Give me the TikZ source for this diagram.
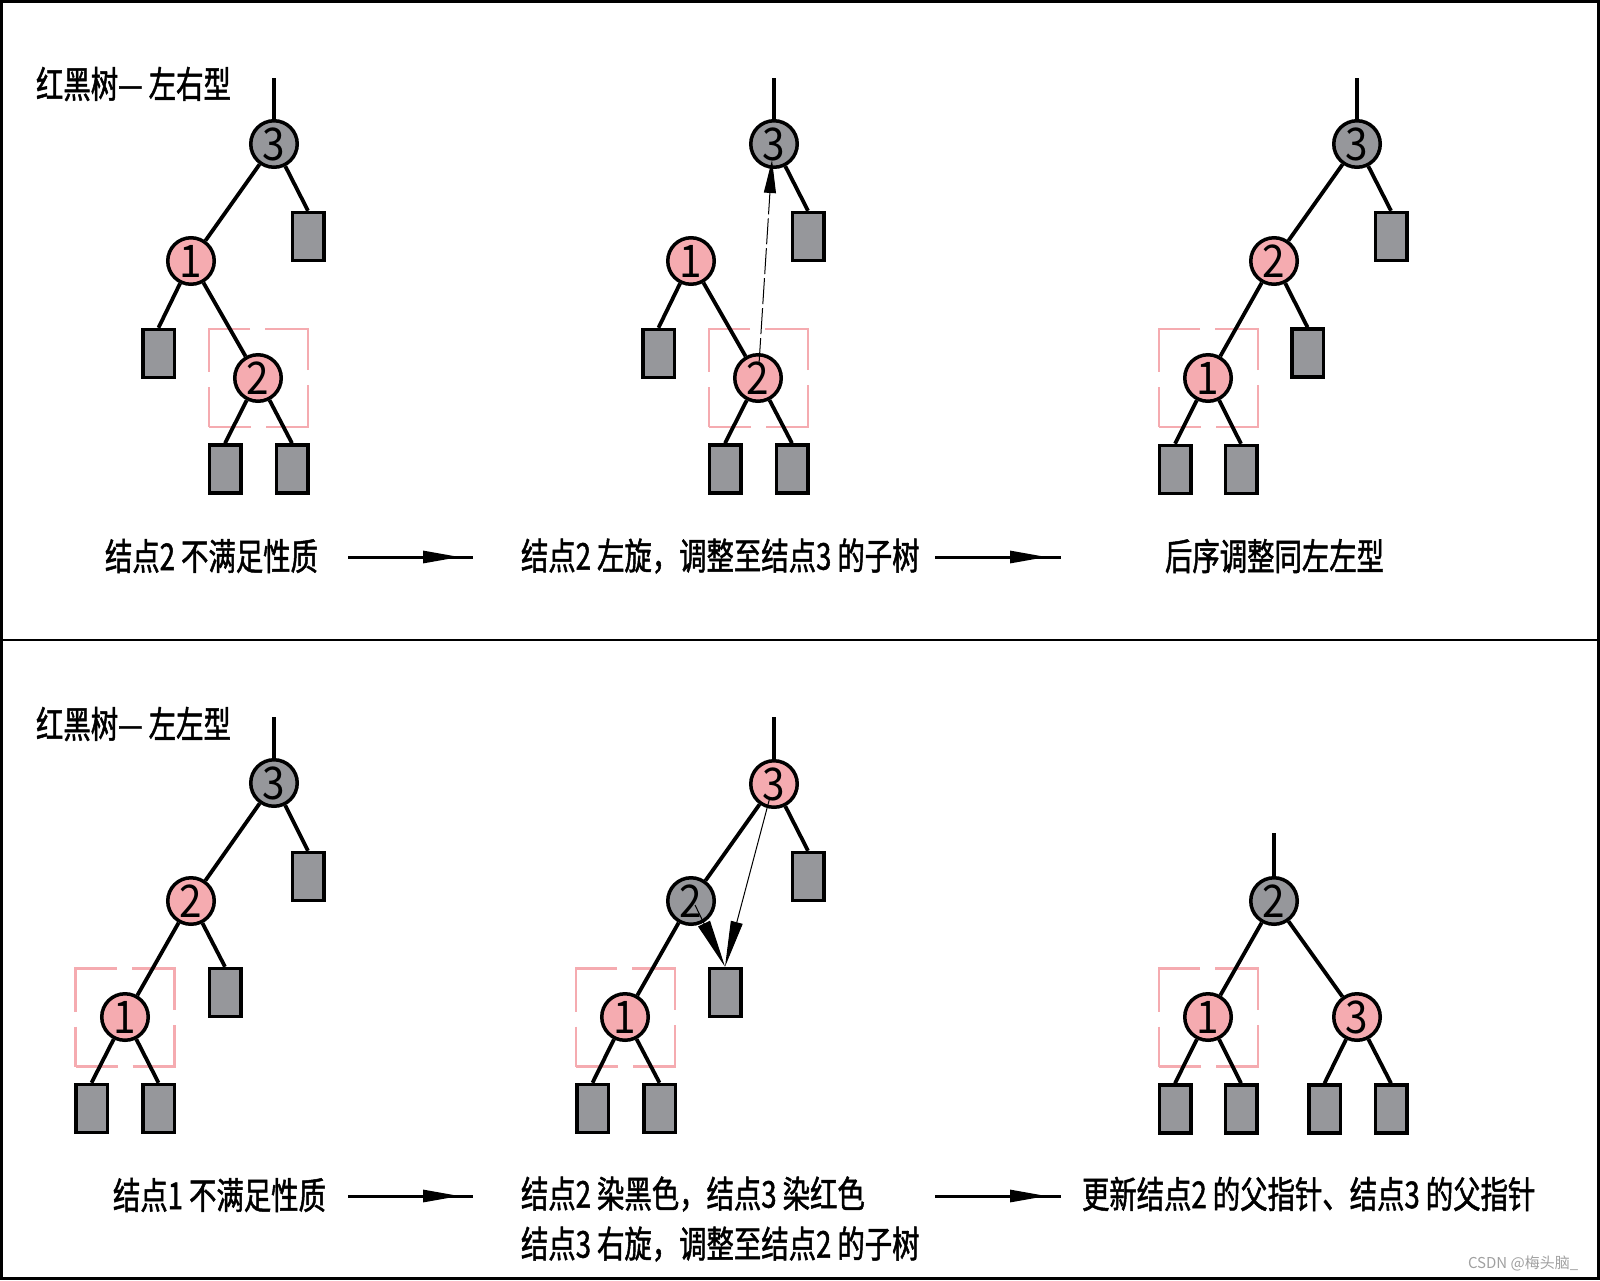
\documentclass[tikz,border=0pt]{standalone}
\usepackage{fontspec}
\usetikzlibrary{arrows.meta}
\newfontfamily\cjk[FakeStretch=0.74,FakeBold=1.3]{Noto Sans CJK SC}
\newfontfamily\numf[FakeStretch=0.9]{Noto Sans CJK SC}
\newfontfamily\wmf{Noto Sans CJK SC}
\definecolor{pinkc}{HTML}{F5ABB0}
\definecolor{grayc}{HTML}{96979B}
\definecolor{wmark}{HTML}{A0A0A0}
\begin{document}
\begin{tikzpicture}[x=1pt,y=-1pt,
  every node/.style={inner sep=0pt,outer sep=0pt},
  rn/.style={circle,draw=black,line width=3.5pt,fill=pinkc,minimum size=46.5pt,
    outer sep=1.75pt,font=\numf\fontsize{45}{45}\selectfont},
  bn/.style={rn,fill=grayc},
  leaf/.style={rectangle,draw=black,line width=3.5pt,fill=grayc,
    minimum width=31.5pt,minimum height=48pt,outer sep=1.75pt},
  tedge/.style={line width=3.8pt},
  hbox/.style={rectangle,draw=pinkc,line width=2.5pt,minimum width=99pt,
    minimum height=98pt,dash pattern=on 84pt off 15pt,dash phase=42pt},
  captext/.style={anchor=west,font=\cjk\fontsize{37}{50}\selectfont,align=left},
  capar/.style={line width=3pt},
  captip/.style={-{Triangle[length=37pt,width=12pt]}},
  thinar/.style={line width=1pt}
]
\useasboundingbox (0,0) rectangle (1600,1280);
% frame
\draw[line width=3pt] (1.5,1.5) rectangle (1598.5,1278.5);
\draw[line width=2.5pt] (0,640) -- (1600,640);

% ---------- highlight boxes (behind) ----------
\node[hbox] (boxA) at (258.5,378) {};
\node[hbox] (boxB) at (758.5,378) {};
\node[hbox] (boxC) at (1208.5,378) {};
\node[hbox] (boxD) at (125,1017.5) {};
\node[hbox] (boxE) at (625.5,1017.5) {};
\node[hbox] (boxF) at (1208.5,1017.5) {};

% ---------- titles ----------
\node[captext] (tA) at (36,84) {红黑树— 左右型};
\node[captext] (tD) at (36,724) {红黑树— 左左型};

% ---------- Tree A ----------
\coordinate (rA) at (274,78);
\node[bn] (A3) at (274,144) {3};
\node[rn] (A1) at (191,261) {1};
\node[rn] (A2) at (258,378) {2};
\node[leaf] (A3r) at (308,236.5) {};
\node[leaf] (A1l) at (158.5,353.5) {};
\node[leaf] (A2l) at (225,469) {};
\node[leaf] (A2r) at (292,469) {};
\draw[tedge] (rA) -- (A3);
\draw[tedge] (A3) -- (A1);
\draw[tedge] (A3) -- (A3r.north);
\draw[tedge] (A1) -- (A1l.north);
\draw[tedge] (A1) -- (A2);
\draw[tedge] (A2) -- (A2l.north);
\draw[tedge] (A2) -- (A2r.north);

% ---------- Tree B ----------
\coordinate (rB) at (774,78);
\node[bn] (B3) at (774,144) {3};
\node[rn] (B1) at (691,261) {1};
\node[rn] (B2) at (758,378) {2};
\node[leaf] (B3r) at (808,236.5) {};
\node[leaf] (B1l) at (658.5,353.5) {};
\node[leaf] (B2l) at (725,469) {};
\node[leaf] (B2r) at (792,469) {};
\draw[tedge] (rB) -- (B3);
\draw[tedge] (B3) -- (B3r.north);
\draw[tedge] (B1) -- (B1l.north);
\draw[tedge] (B1) -- (B2);
\draw[tedge] (B2) -- (B2l.north);
\draw[tedge] (B2) -- (B2r.north);
\coordinate (bs) at (759,364);
\coordinate (bt) at (772,160);
\draw[thinar,dash pattern=on 26pt off 4pt,-{Triangle[length=33pt,width=12pt]}] (bs) -- (bt);

% ---------- Tree C ----------
\coordinate (rC) at (1357,78);
\node[bn] (C3) at (1357,144) {3};
\node[rn] (C2) at (1274,261) {2};
\node[rn] (C1) at (1208,378) {1};
\node[leaf] (C3r) at (1391,236.5) {};
\node[leaf] (C2r) at (1307.5,353) {};
\node[leaf] (C1l) at (1175,469.5) {};
\node[leaf] (C1r) at (1241,469.5) {};
\draw[tedge] (rC) -- (C3);
\draw[tedge] (C3) -- (C2);
\draw[tedge] (C3) -- (C3r.north);
\draw[tedge] (C2) -- (C1);
\draw[tedge] (C2) -- (C2r.north);
\draw[tedge] (C1) -- (C1l.north);
\draw[tedge] (C1) -- (C1r.north);

% ---------- Tree D ----------
\coordinate (rD) at (274,717);
\node[bn] (D3) at (274,783) {3};
\node[rn] (D2) at (191,901) {2};
\node[rn] (D1) at (125,1017) {1};
\node[leaf] (D3r) at (308,876.5) {};
\node[leaf] (D2r) at (225,992.5) {};
\node[leaf] (D1l) at (91.5,1108.5) {};
\node[leaf] (D1r) at (158.5,1108.5) {};
\draw[tedge] (rD) -- (D3);
\draw[tedge] (D3) -- (D2);
\draw[tedge] (D3) -- (D3r.north);
\draw[tedge] (D2) -- (D1);
\draw[tedge] (D2) -- (D2r.north);
\draw[tedge] (D1) -- (D1l.north);
\draw[tedge] (D1) -- (D1r.north);

% ---------- Tree E ----------
\coordinate (rE) at (774,717);
\node[rn] (E3) at (774,784) {3};
\node[bn] (E2) at (691,901) {2};
\node[rn] (E1) at (625,1017) {1};
\node[leaf] (E3r) at (808,876.5) {};
\node[leaf] (E2r) at (725,992.5) {};
\node[leaf] (E1l) at (592.5,1108.5) {};
\node[leaf] (E1r) at (659.5,1108.5) {};
\draw[tedge] (rE) -- (E3);
\draw[tedge] (E3) -- (E2);
\draw[tedge] (E3) -- (E3r.north);
\draw[tedge] (E2) -- (E1);
\draw[tedge] (E1) -- (E1l.north);
\draw[tedge] (E1) -- (E1r.north);
\coordinate (es1) at (695,905);
\coordinate (es2) at (770,797);
\draw[thinar,-{Triangle[length=48pt,width=13pt]}] (es1) -- (E2r.north);
\draw[thinar,-{Triangle[length=46pt,width=12pt]}] (es2) -- (E2r.north);

% ---------- Tree F ----------
\coordinate (rF) at (1274,833);
\node[bn] (F2) at (1274,901) {2};
\node[rn] (F1) at (1208,1017) {1};
\node[rn] (F3) at (1357,1017) {3};
\node[leaf] (F1l) at (1175,1109) {};
\node[leaf] (F1r) at (1241,1109) {};
\node[leaf] (F3l) at (1324.5,1109) {};
\node[leaf] (F3r) at (1391,1109) {};
\draw[tedge] (rF) -- (F2);
\draw[tedge] (F2) -- (F1);
\draw[tedge] (F2) -- (F3);
\draw[tedge] (F1) -- (F1l.north);
\draw[tedge] (F1) -- (F1r.north);
\draw[tedge] (F3) -- (F3l.north);
\draw[tedge] (F3) -- (F3r.north);

% ---------- captions ----------
\node[captext] (cA) at (105,556) {结点2 不满足性质};
\node[captext] (cB) at (521,556) {结点2 左旋，调整至结点3 的子树};
\node[captext] (cC) at (1165,556) {后序调整同左左型};
\node[captext] (cD) at (113,1195) {结点1 不满足性质};
\node[captext] (cE1) at (521,1194) {结点2 染黑色，结点3 染红色};
\node[captext] (cE2) at (521,1244) {结点3 右旋，调整至结点2 的子树};
\node[captext] (cF) at (1082,1194) {更新结点2 的父指针、结点3 的父指针};

% caption arrows
\coordinate (a1s) at (348,557); \coordinate (a1e) at (473,557); \coordinate (a1t) at (460,557);
\coordinate (a2s) at (935,557); \coordinate (a2e) at (1061,557); \coordinate (a2t) at (1047,557);
\coordinate (a3s) at (348,1196); \coordinate (a3e) at (473,1196); \coordinate (a3t) at (460,1196);
\coordinate (a4s) at (935,1196); \coordinate (a4e) at (1061,1196); \coordinate (a4t) at (1047,1196);
\draw[capar] (a1s) -- (a1e); \draw[capar,captip] (a1s) -- (a1t);
\draw[capar] (a2s) -- (a2e); \draw[capar,captip] (a2s) -- (a2t);
\draw[capar] (a3s) -- (a3e); \draw[capar,captip] (a3s) -- (a3t);
\draw[capar] (a4s) -- (a4e); \draw[capar,captip] (a4s) -- (a4t);

% watermark
\node[anchor=west,font=\wmf\fontsize{15}{15}\selectfont,text=wmark] (wm) at (1468,1263) {CSDN @梅头脑\_};
\end{tikzpicture}
\end{document}
